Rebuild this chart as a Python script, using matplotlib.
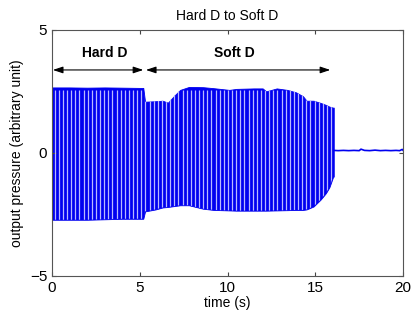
import numpy as np
import matplotlib
matplotlib.use("Agg")
import matplotlib.pyplot as plt

plt.rcParams['font.family'] = ['Liberation Sans', 'DejaVu Sans']

# envelope of the oscillating signal
t_env = [0.0, 1.0, 2.0, 3.0, 4.0, 5.0, 5.2, 5.3, 5.9, 6.3, 6.6, 7.0, 7.3, 7.8, 8.6,
         9.2, 10.1, 10.5, 11.5, 12.0, 12.2, 12.8, 13.4, 13.9, 14.3, 14.5, 14.9,
         15.3, 15.6, 15.8, 16.0, 16.05]
upper = [2.66, 2.66, 2.65, 2.66, 2.65, 2.64, 2.64, 2.08, 2.10, 2.12, 2.04, 2.35, 2.56,
         2.68, 2.67, 2.63, 2.56, 2.60, 2.62, 2.62, 2.50, 2.62, 2.56, 2.46, 2.30,
         2.12, 2.12, 2.03, 1.95, 1.88, 1.84, 1.84]
lower = [-2.72, -2.72, -2.72, -2.70, -2.68, -2.68, -2.68, -2.38, -2.30, -2.22, -2.20,
         -2.16, -2.13, -2.13, -2.27, -2.32, -2.34, -2.35, -2.35, -2.35, -2.35, -2.34,
         -2.33, -2.32, -2.32, -2.30, -2.18, -1.90, -1.64, -1.40, -1.00, -0.96]

# residual signal after the oscillation stops
t_tail = [16.05, 16.3, 16.6, 16.9, 17.2, 17.5, 17.6, 17.8, 18.1, 18.4, 18.7, 19.0,
          19.3, 19.6, 19.8, 19.95, 20.0]
y_tail = [0.10, 0.09, 0.10, 0.09, 0.10, 0.09, 0.15, 0.10, 0.09, 0.11, 0.09, 0.10,
          0.09, 0.10, 0.09, 0.14, 0.10]

fig = plt.figure(figsize=(4.16, 3.11), dpi=100)
ax = fig.add_axes([0.125, 0.113, 0.844, 0.791])

blue = '#0000f0'
poly = ax.fill_between(t_env, lower, upper, color=blue, linewidth=0.6, edgecolor=blue)
# aliasing stripes inside the oscillation
stripes = np.arange(0.15, 16.0, 0.235)
vl = ax.vlines(stripes, -2.9, 2.55, colors='#b8b8ff', linewidth=0.9)
path = poly.get_paths()[0]
vl.set_clip_path(path, ax.transData)
ax.plot(t_tail, y_tail, color=blue, linewidth=1.2)

ax.set_xlim(0, 20)
ax.set_ylim(-5, 5)
ax.set_xticks([0, 5, 10, 15, 20])
ax.set_yticks([-5, 0, 5])
ax.tick_params(direction='in', top=True, right=True, labelsize=11, length=3,
               color='#444444')
for s in ax.spines.values():
    s.set_color('#555555')
    s.set_linewidth(0.8)

ax.set_title('Hard D to Soft D', fontsize=10, pad=7)
ax.set_xlabel('time (s)', fontsize=10, labelpad=1)
ax.set_ylabel('output pressure (arbitrary unit)', fontsize=10, labelpad=4)

arrowprops = dict(arrowstyle='<|-|>,head_length=0.6,head_width=0.2',
                  color='black', lw=0.8, shrinkA=0, shrinkB=0)
ax.annotate('', xy=(0.05, 3.37), xytext=(5.2, 3.37), arrowprops=arrowprops)
ax.annotate('', xy=(5.35, 3.37), xytext=(15.85, 3.37), arrowprops=arrowprops)
ax.text(3.0, 4.05, 'Hard D', fontsize=10, fontweight='bold', ha='center', va='center')
ax.text(10.4, 4.05, 'Soft D', fontsize=10, fontweight='bold', ha='center', va='center')

fig.savefig('out.png', dpi=100)
